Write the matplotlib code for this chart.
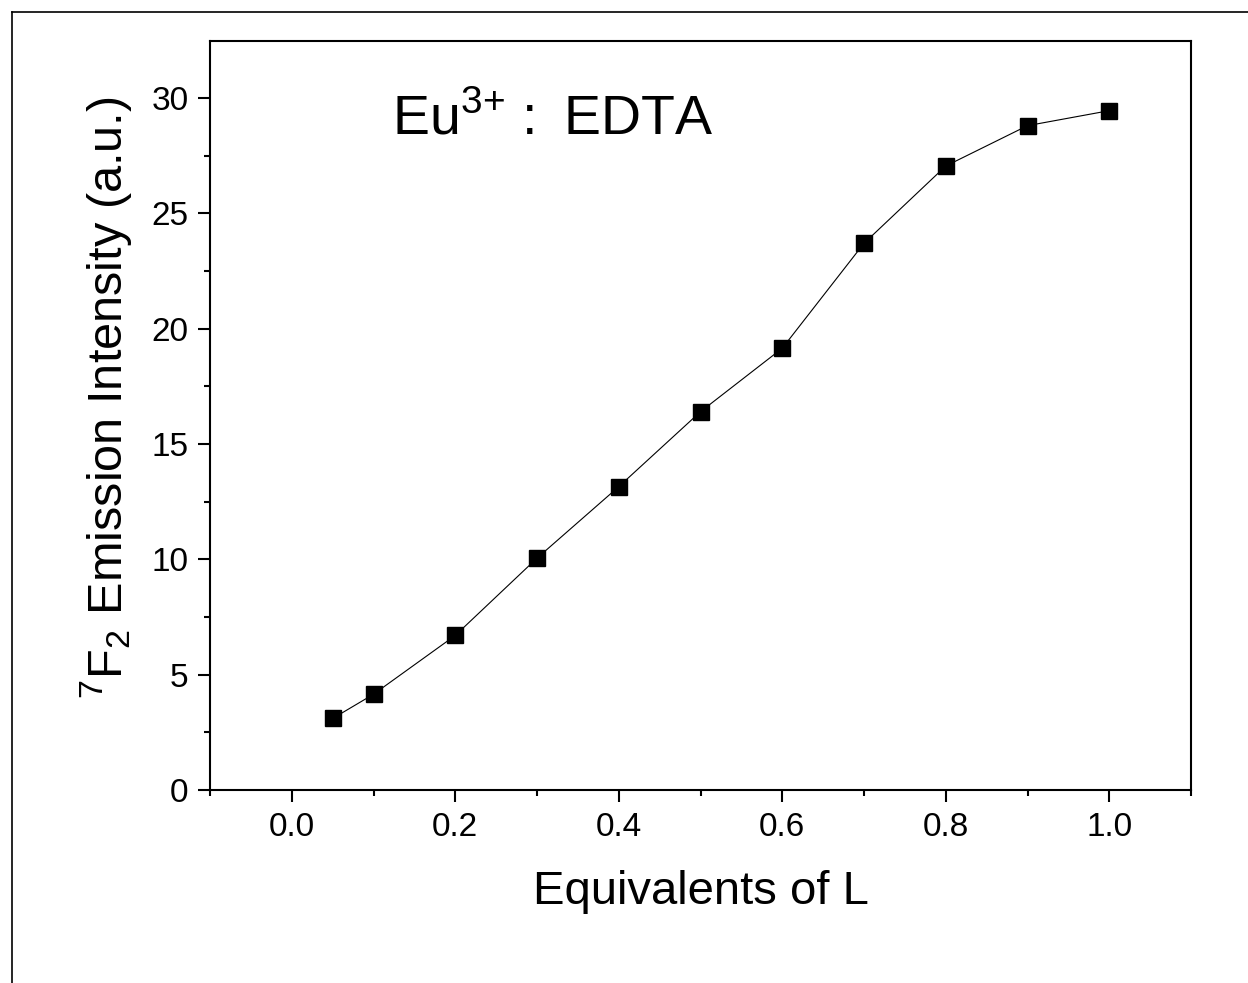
import matplotlib.pyplot as plt
from matplotlib.lines import Line2D
from matplotlib.ticker import MultipleLocator

plt.rcParams['font.family'] = ['Liberation Sans', 'DejaVu Sans']

# Dati
equivalents = [0.05, 0.1, 0.2, 0.3, 0.4, 0.5, 0.6, 0.7, 0.8, 0.9, 1.0]
intensity = [3.1, 4.15, 6.7, 10.05, 13.15, 16.4, 19.15, 23.7, 27.05, 28.8, 29.45]

fig = plt.figure(figsize=(12.48, 9.83), dpi=100)
ax = fig.add_axes([210 / 1248, 1 - 790 / 983, 981 / 1248, 749 / 983])

# cornice esterna (solo lati sinistro e superiore visibili)
fig.add_artist(Line2D([12 / 1248, 12 / 1248], [0, 1 - 12 / 983], color='black', lw=1.2))
fig.add_artist(Line2D([12 / 1248, 1], [1 - 12 / 983, 1 - 12 / 983], color='black', lw=1.2))

ax.plot(equivalents, intensity, color='black', lw=0.8, marker='s', markersize=11)

ax.set_xlim(-0.1, 1.1)
ax.set_ylim(0, 32.47)
ax.xaxis.set_major_locator(MultipleLocator(0.2))
ax.xaxis.set_minor_locator(MultipleLocator(0.1))
ax.yaxis.set_major_locator(MultipleLocator(5))
ax.yaxis.set_minor_locator(MultipleLocator(2.5))
ax.xaxis.set_major_formatter(lambda v, p: f"{v:.1f}")

ax.tick_params(which='major', direction='out', length=8.6, width=1.5, labelsize=24, pad=7)
ax.tick_params(which='minor', direction='out', length=4.5, width=1.5)
for s in ax.spines.values():
    s.set_linewidth(1.5)

ax.set_xlabel('Equivalents of L', fontsize=34, labelpad=20)
ax.set_ylabel(r'$^{\mathregular{7}}$F$_{\mathregular{2}}$ Emission Intensity (a.u.)', fontsize=35)
ax.yaxis.set_label_coords(-0.0775, 0.524)
ax.text(0.1855, 0.8745, r'Eu$^{\mathregular{3{+}}}$' + ' : \u2009EDTA', transform=ax.transAxes,
        fontsize=40, va='baseline')

fig.savefig('out.png', dpi=100)
